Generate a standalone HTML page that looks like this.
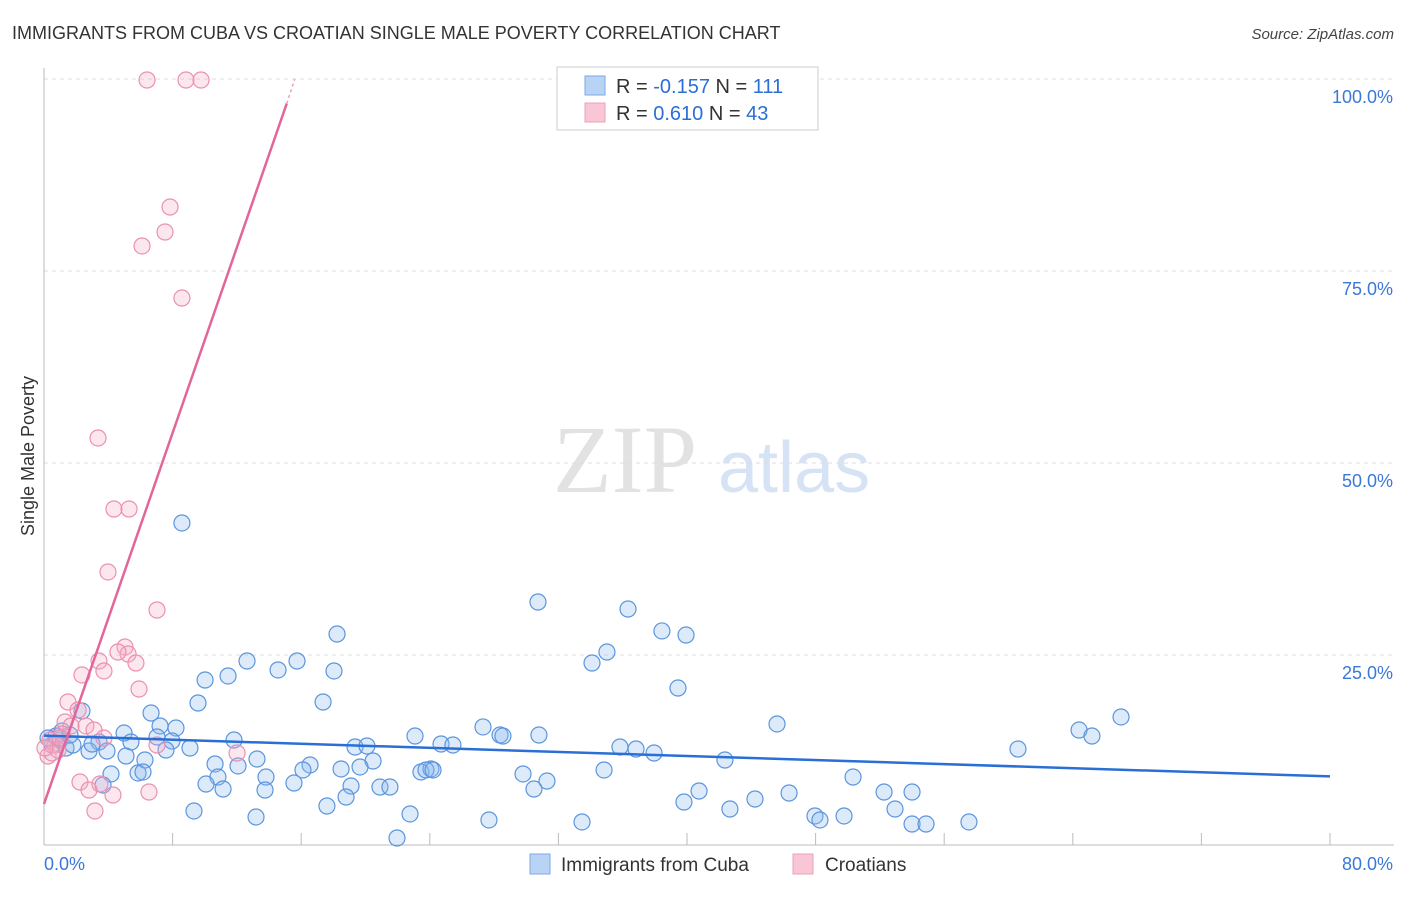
<!DOCTYPE html>
<html><head><meta charset="utf-8"><style>
body{margin:0;background:#fff;font-family:"Liberation Sans",sans-serif}
</style></head><body>
<svg id="chart" width="1406" height="892" xmlns="http://www.w3.org/2000/svg" font-family="Liberation Sans, sans-serif">
<text x="12" y="39" font-size="18" fill="#333">IMMIGRANTS FROM CUBA VS CROATIAN SINGLE MALE POVERTY CORRELATION CHART</text>
<text x="1394" y="39" font-size="15" fill="#444" text-anchor="end" font-style="italic">Source: ZipAtlas.com</text>
<text x="553" y="492" font-size="96" fill="#e2e2e2" font-family="Liberation Serif, serif">ZIP</text>
<text x="718" y="492" font-size="72" fill="#d6e3f5">atlas</text>
<text transform="translate(34,456) rotate(-90)" font-size="18" fill="#333" text-anchor="middle">Single Male Poverty</text>
<g id="grid"></g>
<g id="pts"></g>
<g id="trends"></g>
<rect x="557" y="67" width="261" height="63" fill="#fff" stroke="#ccc"/>
<rect x="585" y="76" width="20" height="19" fill="#b9d3f5" stroke="#7aa8e6"/>
<rect x="585" y="103" width="20" height="19" fill="#f9c6d6" stroke="#eba0bb"/>
<text x="616" y="93" font-size="20" fill="#333">R = <tspan fill="#2b6fd6">-0.157</tspan>   N = <tspan fill="#2b6fd6">111</tspan></text>
<text x="616" y="120" font-size="20" fill="#333">R =  <tspan fill="#2b6fd6">0.610</tspan>   N = <tspan fill="#2b6fd6">43</tspan></text>
<rect x="530" y="854" width="20" height="20" fill="#b9d3f5" stroke="#7aa8e6"/>
<text x="561" y="871" font-size="19" fill="#333">Immigrants from Cuba</text>
<rect x="793" y="854" width="20" height="20" fill="#f9c6d6" stroke="#eba0bb"/>
<text x="825" y="871" font-size="19" fill="#333">Croatians</text>
</svg>
<script>
const yTicks=[25,50,75,100];
const yTickLabels=["25.0%","50.0%","75.0%","100.0%"];
const xTickLabels=["0.0%","80.0%"];
const cubaPx=[[182,523],[538,602],[628,609],[662,631],[686,635],[337,634],[607,652],[592,663],[247,661],[297,661],[278,670],[334,671],[228,676],[205,680],[678,688],[198,703],[323,702],[151,713],[82,711],[160,726],[176,728],[777,724],[1121,717],[1079,730],[1092,736],[483,727],[500,735],[503,736],[539,735],[415,736],[124,733],[99,742],[157,737],[172,741],[234,740],[355,747],[367,746],[441,744],[453,745],[620,747],[636,749],[654,753],[1018,749],[190,748],[166,750],[131,742],[107,751],[89,751],[126,756],[145,760],[257,759],[373,761],[310,765],[303,770],[341,769],[360,767],[215,764],[238,766],[725,760],[111,774],[138,773],[143,772],[218,777],[266,777],[421,772],[431,769],[426,770],[433,770],[523,774],[547,781],[604,770],[853,777],[206,784],[223,789],[265,790],[294,783],[351,786],[380,787],[390,787],[534,789],[103,785],[699,791],[884,792],[789,793],[912,792],[684,802],[730,809],[755,799],[895,809],[194,811],[327,806],[346,797],[410,814],[489,820],[582,822],[815,816],[820,820],[844,816],[912,824],[926,824],[969,822],[256,817],[397,838],[60,740],[52,745],[66,748],[56,736],[48,738],[73,745],[92,744],[62,731],[70,735]];
const croPx=[[147,80],[186,80],[201,80],[170,207],[165,232],[142,246],[182,298],[98,438],[114,509],[129,509],[108,572],[157,610],[125,647],[128,654],[118,652],[136,663],[99,661],[104,671],[82,675],[139,689],[68,702],[78,710],[86,726],[65,722],[71,726],[94,730],[104,738],[157,745],[237,753],[50,740],[55,745],[48,756],[58,750],[62,734],[80,782],[89,790],[100,784],[113,795],[149,792],[95,811],[52,753],[60,738],[45,748]];
// data values (percent) derived from reading the picture
const cubaX=cubaPx.map(p=>+((p[0]-44)/16.075).toFixed(2));
const cubaY=cubaPx.map(p=>+((847-p[1])/7.68).toFixed(2));
const croX=croPx.map(p=>+((p[0]-44)/16.075).toFixed(2));
const croY=croPx.map(p=>+((847-p[1])/7.68).toFixed(2));
const cubaTrend=[[0,14.5],[80,9.2]];
const croTrend=[[0,5.6],[15.1,96.8]];
const X=v=>44+v*16.075, Y=v=>847-v*7.68;
const NS="http://www.w3.org/2000/svg";
function mk(t,a,p){const e=document.createElementNS(NS,t);for(const k in a)e.setAttribute(k,a[k]);p.appendChild(e);return e;}
const grid=document.getElementById('grid');
yTicks.forEach((t,i)=>{
 const l=mk('line',{x1:44,x2:1394,y1:Y(t),y2:Y(t),stroke:'#ddd','stroke-dasharray':'4,4'},grid);
 
 
 const tx=mk('text',{x:1393,y:Y(t)+24,'font-size':18,fill:'#3a78d8','text-anchor':'end'},grid);
 tx.textContent=yTickLabels[i];
 
 
});
let ax=mk('line',{x1:44,x2:1394,y1:845,y2:845,stroke:'#bbb'},grid);


let ay=mk('line',{x1:44,x2:44,y1:68,y2:845,stroke:'#bbb'},grid);


for(let i=1;i<=10;i++){const t=mk('line',{x1:X(i*8),x2:X(i*8),y1:833,y2:845,stroke:'#bbb'},grid);
 
 }
[[0,'start',44],[80,'end',1393]].forEach((d,i)=>{const t=mk('text',{x:d[2],y:870,'font-size':18,fill:'#3a78d8','text-anchor':d[1]},grid);t.textContent=xTickLabels[i];
 
 });
const pts=document.getElementById('pts');
cubaX.forEach((x,i)=>{const c=mk('circle',{cx:X(x),cy:Y(cubaY[i]),r:8,fill:'rgba(140,185,240,0.3)',stroke:'#5b95dd','stroke-width':1.2},pts);
 
 });
croX.forEach((x,i)=>{const c=mk('circle',{cx:X(x),cy:Y(croY[i]),r:8,fill:'rgba(245,175,200,0.3)',stroke:'#ec8fb0','stroke-width':1.2},pts);
 
 });
const tr=document.getElementById('trends');
let l1=mk('line',{x1:X(cubaTrend[0][0]),y1:Y(cubaTrend[0][1]),x2:X(cubaTrend[1][0]),y2:Y(cubaTrend[1][1]),stroke:'#2a6fd6','stroke-width':2.5},tr);


let l2=mk('line',{x1:X(croTrend[0][0]),y1:Y(croTrend[0][1]),x2:X(croTrend[1][0]),y2:Y(croTrend[1][1]),stroke:'#e2669a','stroke-width':2.5},tr);


let l3=mk('line',{x1:X(croTrend[1][0]),y1:Y(croTrend[1][1]),x2:X(15.6),y2:Y(100),stroke:'#e8a0bd','stroke-width':1.5,'stroke-dasharray':'3,3'},tr);


</script>
</body></html>
